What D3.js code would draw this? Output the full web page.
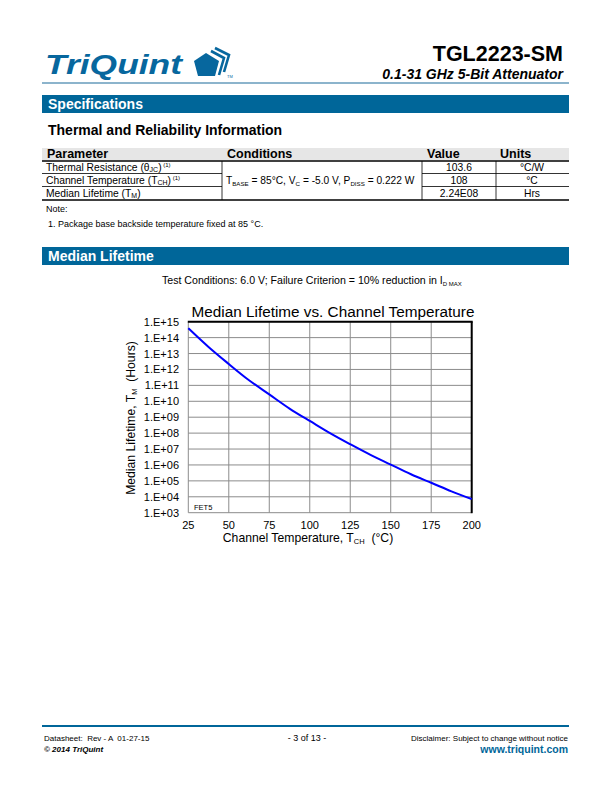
<!DOCTYPE html>
<html><head><meta charset="utf-8">
<script src="https://cdn.jsdelivr.net/npm/d3@7/dist/d3.min.js"></script>
<style>
html,body{margin:0;padding:0;background:#fff;}
svg text{font-family:"Liberation Sans",Arial,sans-serif;white-space:pre;}
</style></head>
<body>
<svg id="page" width="612" height="792"></svg>
<script>
// ---------- data ----------
const tempsC = [25, 37.5, 50, 62.5, 75, 87.5, 100, 112.5, 125, 137.5, 150, 162.5, 175, 187.5, 200];
const lifetimeHours = [3.9e14, 2.6e13, 2.2e12, 2.1e11, 2.7e10, 3.5e9, 5.8e8, 1.0e8, 2.0e7, 4.3e6, 1.05e6, 2.6e5, 7.6e4, 2.2e4, 7.2e3];
const xTicks = [25, 50, 75, 100, 125, 150, 175, 200];
const yTicks = [1e3, 1e4, 1e5, 1e6, 1e7, 1e8, 1e9, 1e10, 1e11, 1e12, 1e13, 1e14, 1e15];
const yTickLabels = ["1.E+03","1.E+04","1.E+05","1.E+06","1.E+07","1.E+08","1.E+09","1.E+10","1.E+11","1.E+12","1.E+13","1.E+14","1.E+15"];
const tableParams = ["Thermal Resistance (θ", "Channel Temperature (T", "Median Lifetime (T"];
const tableParamSubs = ["JC", "CH", "M"];
const tableParamNotes = [" (1)", " (1)", ""];
const tableValues = ["103.6", "108", "2.24E08"];
const tableUnits = ["°C/W", "°C", "Hrs"];

const BLUE = "#006699";
const svg = d3.select("#page");

// ---------- header ----------
svg.append("text").attr("x", 45).attr("y", 74)
  .attr("font-size", 27).attr("font-weight", "bold").attr("font-style", "italic")
  .attr("fill", "#07679e").attr("textLength", 137).attr("lengthAdjust", "spacingAndGlyphs")
  .text("TriQuint");
// pentagon logo
svg.append("path").attr("d", "M206,53 L219,61 L215,76 L198,76 L194,61 Z").attr("fill", "#07679e");
svg.append("path").attr("d", "M211,51 L224,58 L219,75").attr("fill", "none").attr("stroke", "#07679e").attr("stroke-width", 2.6);
svg.append("path").attr("d", "M215,48 L229,55 L224,72").attr("fill", "none").attr("stroke", "#07679e").attr("stroke-width", 2.6);
svg.append("text").attr("x", 227).attr("y", 78).attr("font-size", 4).attr("fill", "#07679e").text("TM");
svg.append("line").attr("x1", 42).attr("x2", 569).attr("y1", 83).attr("y2", 83).attr("stroke", "#1a6a9a").attr("stroke-width", 1.2);

svg.append("text").attr("x", 563).attr("y", 61).attr("text-anchor", "end")
  .attr("font-size", 21.5).attr("font-weight", "bold").attr("fill", "#000").text("TGL2223-SM");
svg.append("text").attr("x", 563).attr("y", 79).attr("text-anchor", "end")
  .attr("font-size", 14).attr("font-weight", "bold").attr("font-style", "italic").attr("fill", "#000")
  .text("0.1-31 GHz 5-Bit Attenuator");

// ---------- Specifications bar ----------
svg.append("rect").attr("x", 42).attr("y", 95).attr("width", 527).attr("height", 18).attr("fill", BLUE);
svg.append("text").attr("x", 48).attr("y", 109).attr("font-size", 14).attr("font-weight", "bold").attr("fill", "#fff").text("Specifications");
svg.append("text").attr("x", 48).attr("y", 135).attr("font-size", 14).attr("font-weight", "bold").attr("fill", "#000").text("Thermal and Reliability Information");

// ---------- table ----------
svg.append("rect").attr("x", 42).attr("y", 148).attr("width", 527).attr("height", 12).attr("fill", "#e6e6e6");
const hdr = [["Parameter", 47], ["Conditions", 227], ["Value", 427], ["Units", 500]];
svg.selectAll(".hdr").data(hdr).enter().append("text")
  .attr("x", d => d[1]).attr("y", 157.5).attr("font-size", 12.5).attr("font-weight", "bold").text(d => d[0]);
svg.append("line").attr("x1", 42).attr("x2", 569).attr("y1", 161).attr("y2", 161).attr("stroke", "#000").attr("stroke-width", 1.5);
svg.append("line").attr("x1", 42).attr("x2", 569).attr("y1", 200).attr("y2", 200).attr("stroke", "#000").attr("stroke-width", 1.5);
[173.5, 186.5].forEach(y => {
  svg.append("line").attr("x1", 42).attr("x2", 222).attr("y1", y).attr("y2", y).attr("stroke", "#000").attr("stroke-width", 0.8);
  svg.append("line").attr("x1", 422).attr("x2", 569).attr("y1", y).attr("y2", y).attr("stroke", "#000").attr("stroke-width", 0.8);
});
[222, 422, 496].forEach(x => svg.append("line").attr("x1", x).attr("x2", x).attr("y1", 161).attr("y2", 200).attr("stroke", "#000").attr("stroke-width", 0.8));
const rowY = [170.5, 183.5, 196.5];
tableParams.forEach((p, i) => {
  const t = svg.append("text").attr("x", 46).attr("y", rowY[i]).attr("font-size", 10.3);
  t.append("tspan").text(p);
  t.append("tspan").attr("font-size", 7).attr("dy", 1.5).text(tableParamSubs[i]);
  t.append("tspan").attr("dy", -1.5).text(")");
  if (tableParamNotes[i]) t.append("tspan").attr("font-size", 6).attr("dy", -4).text(tableParamNotes[i]);
  svg.append("text").attr("x", 459).attr("y", rowY[i]).attr("text-anchor", "middle").attr("font-size", 10.3).text(tableValues[i]);
  svg.append("text").attr("x", 532).attr("y", rowY[i]).attr("text-anchor", "middle").attr("font-size", 10.3).text(tableUnits[i]);
});
{
  const t = svg.append("text").attr("x", 226).attr("y", 184).attr("font-size", 10.2);
  t.append("tspan").text("T");
  t.append("tspan").attr("font-size", 6.2).attr("dy", 1.5).text("BASE");
  t.append("tspan").attr("dy", -1.5).text(" = 85°C, V");
  t.append("tspan").attr("font-size", 6.2).attr("dy", 1.5).text("C");
  t.append("tspan").attr("dy", -1.5).text(" = -5.0 V, P");
  t.append("tspan").attr("font-size", 6.2).attr("dy", 1.5).text("DISS");
  t.append("tspan").attr("dy", -1.5).text(" = 0.222 W");
}
svg.append("text").attr("x", 46).attr("y", 212).attr("font-size", 9).text("Note:");
svg.append("text").attr("x", 48).attr("y", 227).attr("font-size", 9).text("1. Package base backside temperature fixed at 85 °C.");

// ---------- Median Lifetime bar ----------
svg.append("rect").attr("x", 42).attr("y", 247).attr("width", 527).attr("height", 18).attr("fill", BLUE);
svg.append("text").attr("x", 48).attr("y", 261).attr("font-size", 14).attr("font-weight", "bold").attr("fill", "#fff").text("Median Lifetime");
{
  const t = svg.append("text").attr("x", 162).attr("y", 284).attr("font-size", 10.6);
  t.append("tspan").text("Test Conditions: 6.0 V; Failure Criterion = 10% reduction in I");
  t.append("tspan").attr("font-size", 6).attr("dy", 1.5).text("D MAX");
}

// ---------- chart ----------
const x = d3.scaleLinear().domain([25, 200]).range([188.3, 471.7]);
const y = d3.scaleLog().domain([1e3, 1e15]).range([512.7, 321.7]);
const g = svg.append("g");
g.selectAll(".vg").data(xTicks).enter().append("line")
  .attr("x1", d => x(d)).attr("x2", d => x(d)).attr("y1", y(1e15)).attr("y2", y(1e3))
  .attr("stroke", "#8c8c8c").attr("stroke-width", 1);
g.selectAll(".hg").data(yTicks).enter().append("line")
  .attr("x1", x(25)).attr("x2", x(200)).attr("y1", d => y(d)).attr("y2", d => y(d))
  .attr("stroke", "#8c8c8c").attr("stroke-width", 1);
// top and right frame
g.append("line").attr("x1", x(25) - 0.5).attr("x2", x(200) + 1).attr("y1", y(1e15)).attr("y2", y(1e15)).attr("stroke", "#000").attr("stroke-width", 2);
g.append("line").attr("x1", x(200)).attr("x2", x(200)).attr("y1", y(1e15)).attr("y2", y(1e3) + 0.5).attr("stroke", "#000").attr("stroke-width", 2);

// curve
const line = d3.line().x((d, i) => x(tempsC[i])).y(d => y(d)).curve(d3.curveNatural);
g.append("path").attr("d", line(lifetimeHours)).attr("fill", "none").attr("stroke", "#0000ff").attr("stroke-width", 2);

// y tick labels
g.selectAll(".yl").data(yTicks).enter().append("text")
  .attr("x", 179).attr("y", d => y(d) + 4).attr("text-anchor", "end").attr("font-size", 11)
  .text((d, i) => yTickLabels[i]);
// x tick labels
g.selectAll(".xl").data(xTicks).enter().append("text")
  .attr("x", d => x(d)).attr("y", 529).attr("text-anchor", "middle").attr("font-size", 11)
  .text(d => d);

// title
svg.append("text").attr("x", 333).attr("y", 317).attr("text-anchor", "middle").attr("font-size", 15.3).text("Median Lifetime vs. Channel Temperature");

// x title
{
  const t = svg.append("text").attr("x", 308).attr("y", 542).attr("text-anchor", "middle").attr("font-size", 12.2);
  t.append("tspan").text("Channel Temperature, T");
  t.append("tspan").attr("font-size", 7.5).attr("dy", 2).text("CH");
  t.append("tspan").attr("dy", -2).text("  (°C)");
}
// y title
{
  const t = svg.append("text").attr("transform", "translate(135,418) rotate(-90)").attr("text-anchor", "middle").attr("font-size", 12.2);
  t.append("tspan").text("Median Lifetime, T");
  t.append("tspan").attr("font-size", 7.5).attr("dy", 2).text("M");
  t.append("tspan").attr("dy", -2).text("  (Hours)");
}
svg.append("text").attr("x", 194).attr("y", 510).attr("font-size", 7.5).text("FET5");

// ---------- footer ----------
svg.append("line").attr("x1", 42).attr("x2", 569).attr("y1", 726).attr("y2", 726).attr("stroke", BLUE).attr("stroke-width", 2);
svg.append("text").attr("x", 44).attr("y", 741).attr("font-size", 8).text("Datasheet:  Rev - A  01-27-15");
svg.append("text").attr("x", 44).attr("y", 752).attr("font-size", 8).attr("font-weight", "bold").attr("font-style", "italic").text("© 2014 TriQuint");
svg.append("text").attr("x", 307).attr("y", 741).attr("text-anchor", "middle").attr("font-size", 9).text("- 3 of 13 -");
svg.append("text").attr("x", 568).attr("y", 741).attr("text-anchor", "end").attr("font-size", 8).text("Disclaimer: Subject to change without notice");
svg.append("text").attr("x", 568).attr("y", 753).attr("text-anchor", "end").attr("font-size", 10.5).attr("font-weight", "bold").attr("fill", BLUE).text("www.triquint.com");
</script>
</body></html>
